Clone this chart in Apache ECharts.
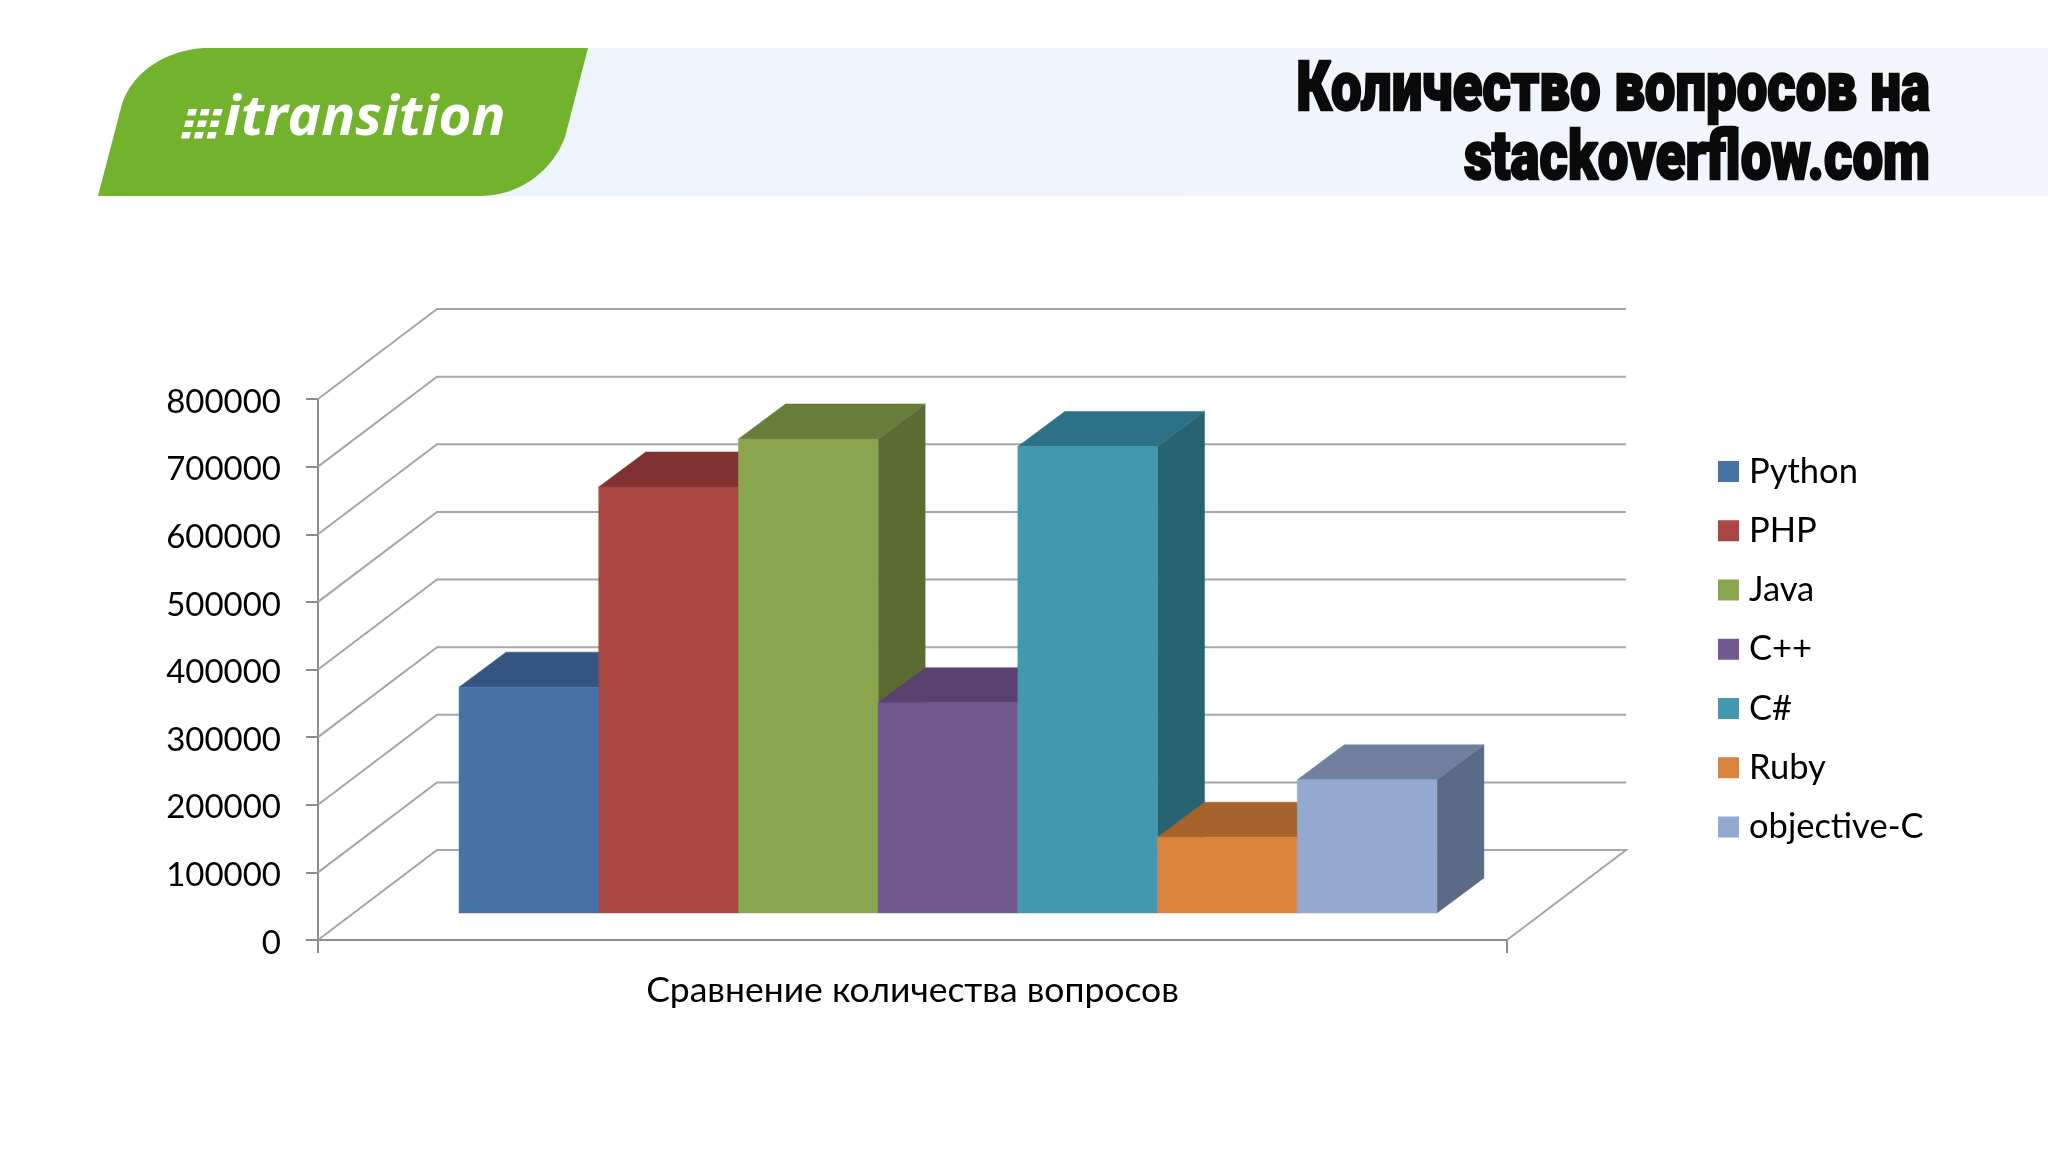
<!DOCTYPE html>
<html>
<head>
<meta charset="utf-8">
<style>html,body{margin:0;padding:0;background:#fff}#c{width:2048px;height:1152px}</style>
<script src="https://cdn.jsdelivr.net/npm/echarts@6/dist/echarts.min.js"></script>
</head>
<body>
<div id="c"></div>
<script>
const categories = ['Сравнение количества вопросов'];
const languages = ['Python', 'PHP', 'Java', 'C++', 'C#', 'Ruby', 'objective-C'];
const questionCounts = [334000, 630000, 701000, 311000, 690000, 112000, 197000];
const frontColors = ['#4572A7', '#AA4643', '#89A54E', '#71588F', '#4198AF', '#DB843D', '#93A9CF'];
const topColors = ['#345581', '#803230', '#677D39', '#5A406F', '#2C7185', '#A6642C', '#717F9E'];
const sideColors = ['#2F4D74', '#732D2A', '#5A6C32', '#4F3962', '#276371', '#915726', '#5C6B85'];
const valueTicks = [0, 100000, 200000, 300000, 400000, 500000, 600000, 700000, 800000];
const titleLines = ['Количество вопросов на', 'stackoverflow.com'];

const wallDx = 119, wallDy = 90;       // depth of the chart box
const barDx = 47, barDy = 35;          // depth of a column
const floorDx = 35.5, floorDy = 27;    // columns stand this far inside the floor
const barShare = 139.7 / 1189;         // column width as a share of the category band
const gridColor = '#A6A6A6';
const axisColor = '#8C8C8C';

function poly(points, fill) {
  return { type: 'polygon', shape: { points }, style: { fill, stroke: fill, lineWidth: 0.5 } };
}

function wallItem(params, api) {
  const band = api.size([1, 0])[0];
  const c = api.coord([0, api.value(1)]);
  const x0 = c[0] - band / 2, x1 = c[0] + band / 2, y = c[1];
  const lineStyle = { stroke: gridColor, lineWidth: 2, fill: null };
  const pts = [[x0, y], [x0 + wallDx, y - wallDy], [x1 + wallDx, y - wallDy]];
  if (api.value(1) !== 0) {
    return { type: 'polyline', shape: { points: pts }, style: lineStyle, silent: true };
  }
  pts.push([x1, y]);
  const tickStyle = { stroke: axisColor, lineWidth: 2, fill: null };
  return {
    type: 'group',
    children: [
      { type: 'polyline', shape: { points: pts }, style: lineStyle, silent: true },
      { type: 'polyline', shape: { points: [[x0, y], [x0, y + 13]] }, style: tickStyle, silent: true },
      { type: 'polyline', shape: { points: [[x1, y], [x1, y + 13]] }, style: tickStyle, silent: true }
    ]
  };
}

function barItem(index) {
  return function (params, api) {
    const band = api.size([1, 0])[0];
    const w = band * barShare;
    const base = api.coord([0, 0]);
    const head = api.coord([0, api.value(1)]);
    const left = base[0] - w * languages.length / 2 + index * w + floorDx;
    const right = left + w;
    const bottom = base[1] - floorDy;
    const top = head[1] - floorDy;
    return {
      type: 'group',
      children: [
        poly([[right, bottom], [right + barDx, bottom - barDy], [right + barDx, top - barDy], [right, top]], sideColors[index]),
        poly([[left, top], [left + barDx, top - barDy], [right + barDx, top - barDy], [right, top]], topColors[index]),
        poly([[left, top], [right, top], [right, bottom], [left, bottom]], frontColors[index])
      ]
    };
  };
}

function curve(p0, p1, p2, p3) {
  const out = [];
  for (let k = 0; k <= 24; k++) {
    const t = k / 24, u = 1 - t;
    out.push([
      u * u * u * p0[0] + 3 * u * u * t * p1[0] + 3 * u * t * t * p2[0] + t * t * t * p3[0],
      u * u * u * p0[1] + 3 * u * u * t * p1[1] + 3 * u * t * t * p2[1] + t * t * t * p3[1]
    ]);
  }
  return out;
}

const badgeOutline = [[98, 196]]
  .concat(curve([122, 104], [132, 72], [168, 48], [209, 48]))
  .concat([[588, 48]])
  .concat(curve([565, 137], [553, 170], [520, 196], [480, 196]));

const logoDots = [];
for (let r = 0; r < 3; r++) {
  for (let q = 0; q < 3; q++) {
    const x = 181 + q * 12.8 + (2 - r) * 3, y = 109 + r * 11.5;
    logoDots.push({
      type: 'polygon', z: 12, silent: true,
      shape: { points: [[x + 1.6, y], [x + 10, y], [x + 8.4, y + 6.6], [x, y + 6.6]] },
      style: { fill: '#fff' }
    });
  }
}

const titleStyle = {
  fill: '#0A0A0A', stroke: '#0A0A0A', lineWidth: 2.5, font: '900 72px Roboto',
  textAlign: 'right', textVerticalAlign: 'bottom', align: 'right', verticalAlign: 'bottom'
};

const chart = echarts.init(document.getElementById('c'), null, { renderer: 'canvas' });
chart.setOption({
  animation: false,
  backgroundColor: '#fff',
  textStyle: { fontFamily: 'Lato' },
  grid: { left: 318, top: 399, width: 1189, height: 541, containLabel: false },
  legend: {
    data: languages,
    orient: 'vertical',
    left: 1713,
    top: 449,
    icon: 'rect',
    itemWidth: 21,
    itemHeight: 21,
    itemGap: 24.25,
    textStyle: { fontFamily: 'Lato', fontSize: 34.5, color: '#000', padding: [0, 0, 0, 5] }
  },
  xAxis: {
    type: 'category',
    data: categories,
    axisLine: { lineStyle: { color: axisColor, width: 2 } },
    axisTick: { show: false },
    axisLabel: { fontFamily: 'Lato', fontSize: 35.5, color: '#000', margin: 33 }
  },
  yAxis: {
    type: 'value',
    min: 0,
    max: 800000,
    interval: 100000,
    axisLine: { show: true, lineStyle: { color: axisColor, width: 2 } },
    axisTick: { show: true, length: 12, lineStyle: { color: axisColor, width: 2 } },
    splitLine: { show: false },
    axisLabel: {
      fontFamily: 'Lato', fontSize: 33, color: '#000', margin: 37,
      verticalAlign: 'top',
      lineHeight: 6,
      formatter: v => String(v)
    }
  },
  series: [
    {
      type: 'custom',
      name: 'walls',
      silent: true,
      z: 1,
      encode: { x: 0, y: 1 },
      renderItem: wallItem,
      data: valueTicks.map(v => [0, v])
    }
  ].concat(languages.map((name, i) => ({
    type: 'custom',
    name,
    z: 3,
    itemStyle: { color: frontColors[i] },
    encode: { x: 0, y: 1 },
    renderItem: barItem(i),
    data: [[0, questionCounts[i]]]
  }))),
  graphic: [
    {
      type: 'rect', z: 10, silent: true,
      shape: { x: 500, y: 48, width: 1548, height: 148 },
      style: {
        fill: new echarts.graphic.LinearGradient(0, 0, 1, 0, [
          { offset: 0, color: '#EEF4FB' },
          { offset: 1, color: '#F2F6FC' }
        ])
      }
    },
    {
      type: 'polygon', z: 11, silent: true,
      shape: { points: badgeOutline },
      style: { fill: '#72B22D' }
    },
    {
      type: 'text', z: 12, silent: true, x: 224, y: 147, scaleX: 0.94, scaleY: 0.92,
      style: { text: 'itransition', fill: '#fff', font: 'italic 700 60px "Open Sans"', textAlign: 'left', textVerticalAlign: 'bottom', align: 'left', verticalAlign: 'bottom' }
    },
    ...logoDots,
    {
      type: 'text', z: 12, silent: true, x: 1930, y: 126.6, scaleX: 0.757, scaleY: 0.94,
      style: Object.assign({ text: titleLines[0] }, titleStyle)
    },
    {
      type: 'text', z: 12, silent: true, x: 1930, y: 196, scaleX: 0.757, scaleY: 0.94,
      style: Object.assign({ text: titleLines[1] }, titleStyle)
    }
  ]
});
</script>
</body>
</html>
